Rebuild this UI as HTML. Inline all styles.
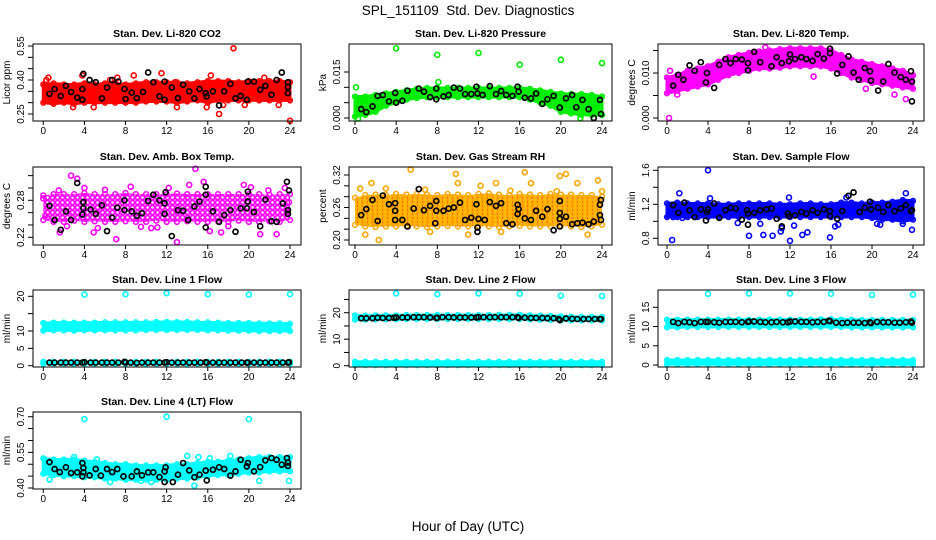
<!DOCTYPE html>
<html><head><meta charset="utf-8"><title>SPL_151109 Std. Dev. Diagnostics</title>
<style>
html,body{margin:0;padding:0;background:#fff;}
svg{display:block;font-family:"Liberation Sans",Arial,sans-serif;}
</style></head>
<body>
<svg id="chart" width="936" height="540" viewBox="0 0 936 540" xmlns="http://www.w3.org/2000/svg">
<defs>
<pattern id="pat-magenta" width="5" height="5" patternUnits="userSpaceOnUse"><circle cx="2.5" cy="2.5" r="2.1" fill="none" stroke="#ff00ff" stroke-width="1.7"/></pattern>
<pattern id="pat-orange" width="5" height="4" patternUnits="userSpaceOnUse"><rect width="5" height="4" fill="#ffc000"/><circle cx="2.5" cy="2" r="1.7" fill="none" stroke="#ffa500" stroke-width="1"/><circle cx="2.5" cy="2" r="0.6" fill="#ff3000"/></pattern>
</defs>
<text x="468" y="15" font-size="13.5" text-anchor="middle">SPL_151109&#160; Std. Dev. Diagnostics</text>
<text x="468" y="531" font-size="13.5" text-anchor="middle">Hour of Day (UTC)</text>
</svg>
<script>
// ---------- shared data ----------
const hours = [0,1,2,3,4,5,6,7,8,9,10,11,12,13,14,15,16,17,18,19,20,21,22,23,24];
const xTicks = [0,4,8,12,16,20,24];
const lineBlackH = [0.6,1.1,1.7,2.2,2.7,3.3,3.8,4.0,4.6,5.1,5.7,6.2,6.7,7.3,7.9,8.0,8.5,9.1,9.6,10.2,10.7,11.3,11.8,12.0,12.5,13.1,13.6,14.2,14.7,15.3,15.8,15.9,16.5,17.1,17.6,18.2,18.7,19.3,19.8,19.9,20.5,21.1,21.6,22.2,22.7,23.3,23.8,23.9];

// ---------- CO2 ----------
const co2Lo = [0.30,0.295,0.30,0.295,0.30,0.30,0.30,0.30,0.30,0.30,0.305,0.305,0.305,0.30,0.305,0.31,0.30,0.31,0.31,0.31,0.31,0.31,0.31,0.31,0.31];
const co2Hi = [0.38,0.385,0.38,0.38,0.385,0.38,0.385,0.385,0.38,0.385,0.39,0.39,0.39,0.39,0.385,0.39,0.395,0.395,0.395,0.39,0.395,0.395,0.395,0.395,0.39];
const co2OutH = [0.3,3.8,7.2,8.8,11.5,12.8,15.9,16.3,17.1,18.5,22.9,24,2.9,4.9,13,17.5,19.6,0.5,6.5,21.5];
const co2OutV = [0.40,0.42,0.41,0.42,0.43,0.39,0.28,0.42,0.25,0.54,0.29,0.22,0.28,0.28,0.28,0.29,0.29,0.41,0.40,0.41];
const co2BlackH = [0.6,1.1,1.7,2.2,2.7,3.3,3.8,3.9,3.8,4.5,5.1,5.7,6.2,6.7,7.3,7.9,8.0,8.6,9.1,9.7,10.2,10.7,11.3,11.8,11.8,12.5,13.1,13.6,14.2,14.7,15.2,15.8,15.9,16.5,17.1,17.6,18.2,18.7,19.2,19.8,19.9,20.5,21.1,21.6,22.2,22.7,23.2,23.8,23.8,23.8];
const co2BlackV = [0.339,0.36,0.33,0.374,0.347,0.322,0.36,0.427,0.313,0.40,0.39,0.319,0.367,0.40,0.393,0.36,0.316,0.344,0.32,0.347,0.433,0.39,0.328,0.393,0.313,0.367,0.32,0.379,0.35,0.319,0.36,0.342,0.328,0.35,0.288,0.35,0.383,0.319,0.33,0.313,0.393,0.393,0.357,0.374,0.335,0.40,0.433,0.39,0.369,0.342];

// ---------- Pressure ----------
const presLo = [0.0005,0.001,0.002,0.004,0.005,0.006,0.0065,0.0068,0.0068,0.0068,0.0068,0.0068,0.0068,0.0068,0.0068,0.0068,0.0068,0.006,0.005,0.004,0.002,0.0015,0.001,0.001,0.001];
const presHi = [0.007,0.007,0.0075,0.008,0.0085,0.009,0.0095,0.0098,0.0098,0.0098,0.0098,0.0098,0.0098,0.0098,0.0098,0.0098,0.0098,0.0095,0.009,0.0085,0.008,0.0078,0.0078,0.0075,0.007];
const presOutH = [0.1,4,8,12,16,20,24,8.1,21.9,0.3];
const presOutV = [0.010,0.0227,0.0206,0.0212,0.0174,0.019,0.0179,0.0117,0.0,-0.0002];
const presBlackH = [0.6,1.1,1.7,2.2,2.7,3.3,3.9,4.0,4.6,5.1,6.2,6.7,7.3,7.9,7.9,8.6,9.1,9.6,10.2,10.7,11.3,11.8,11.9,12.4,13.1,13.7,14.2,14.7,15.3,15.8,15.9,16.5,17.1,17.6,18.2,18.7,19.3,19.9,20.5,21.1,21.5,22.1,22.7,23.2,23.8,23.9];
const presBlackV = [0.0029,0.0019,0.0038,0.0072,0.0075,0.0054,0.0082,0.005,0.0056,0.0089,0.0096,0.0086,0.0068,0.0096,0.0061,0.007,0.0075,0.0099,0.0096,0.0078,0.0078,0.0102,0.008,0.0075,0.0104,0.0078,0.0088,0.0075,0.0072,0.0102,0.0086,0.0066,0.0064,0.008,0.0046,0.0061,0.0072,0.0034,0.0064,0.0075,0.0035,0.0059,0.0029,0.0,0.0059,0.0013];

// ---------- Li-820 Temp ----------
const ltLo = [0.0055,0.006,0.0065,0.007,0.0075,0.0085,0.0095,0.010,0.0105,0.011,0.011,0.0112,0.0115,0.0115,0.0115,0.0115,0.011,0.010,0.009,0.0085,0.0078,0.0075,0.0072,0.0068,0.0065];
const ltHi = [0.009,0.0095,0.0105,0.011,0.0115,0.0125,0.0135,0.014,0.0145,0.0148,0.015,0.0153,0.0155,0.0155,0.0155,0.0155,0.015,0.014,0.013,0.0125,0.012,0.0115,0.011,0.0105,0.0095];
const ltOutH = [0.2,9.6,14.3,19.4,22.2,23.3,0.3,1.0];
const ltOutV = [0.0,0.0157,0.0092,0.0065,0.0052,0.0042,0.0105,0.0052];
const ltBlackH = [0.6,1.1,1.6,2.2,2.7,3.3,3.8,3.9,4.6,5.1,5.7,6.2,6.7,7.3,7.9,7.9,8.5,9.1,10.2,10.7,11.2,11.9,12.0,12.5,13.1,13.6,14.2,14.7,15.3,15.9,15.9,16.6,17.1,17.7,18.2,18.7,19.3,19.8,19.9,20.6,21.1,21.6,22.2,22.8,23.3,23.8,23.9,23.9];
const ltBlackV = [0.0072,0.0096,0.0085,0.0117,0.0105,0.0124,0.0079,0.010,0.0067,0.0118,0.0131,0.0122,0.0131,0.013,0.0122,0.0106,0.0147,0.0124,0.0115,0.0135,0.0122,0.0126,0.0141,0.0131,0.0135,0.0131,0.0127,0.0142,0.0132,0.0144,0.0154,0.0099,0.0118,0.0137,0.0101,0.0085,0.0111,0.0104,0.0083,0.0061,0.0081,0.012,0.0101,0.0091,0.0085,0.0104,0.0081,0.0037];

// ---------- Amb Box Temp ----------
const abLo = [0.248,0.245,0.245,0.247,0.245,0.246,0.245,0.245,0.246,0.245,0.245,0.247,0.245,0.245,0.246,0.245,0.245,0.246,0.245,0.247,0.245,0.245,0.246,0.245,0.248];
const abHi = [0.288,0.29,0.29,0.29,0.292,0.29,0.29,0.29,0.292,0.29,0.29,0.29,0.29,0.291,0.29,0.29,0.29,0.29,0.29,0.29,0.29,0.29,0.289,0.29,0.29];
const abOutH = [2.7,3.3,14.8,15.6,21.9,7.1,13,17.3,21.1,22.7,4.9,1.6,0.2,0.0,1.5,2.3,4,6,8.5,10.5,12.2,14.2,16.2,18,19.5,20.2,23.5,23.9,5.3,9.5,11.1];
const abOutV = [0.32,0.315,0.331,0.31,0.296,0.217,0.212,0.228,0.225,0.225,0.228,0.228,0.255,0.283,0.296,0.238,0.30,0.297,0.302,0.235,0.30,0.305,0.23,0.238,0.305,0.301,0.30,0.277,0.235,0.237,0.236];
const abBlackH = [0.6,1.1,1.7,2.2,2.7,3.3,3.9,3.9,3.8,4.6,5.1,5.7,6.2,6.7,7.2,7.9,7.9,8.6,9.1,9.6,10.2,10.7,11.3,11.9,11.8,11.8,12.5,13.1,13.6,14.1,14.7,15.2,15.8,15.8,15.8,16.5,17.1,17.6,18.2,18.7,19.2,19.9,19.9,19.8,20.5,21.1,21.6,22.2,22.7,23.3,23.7,23.9,23.8,23.8];
const abBlackV = [0.271,0.248,0.232,0.262,0.248,0.308,0.277,0.267,0.257,0.265,0.258,0.272,0.23,0.252,0.268,0.28,0.264,0.262,0.255,0.259,0.279,0.289,0.28,0.293,0.275,0.258,0.222,0.264,0.263,0.248,0.27,0.278,0.302,0.289,0.236,0.262,0.245,0.256,0.264,0.229,0.267,0.294,0.278,0.267,0.261,0.238,0.281,0.246,0.245,0.275,0.31,0.296,0.264,0.258];

// ---------- Gas Stream RH ----------
const rhLo = [0.228,0.225,0.224,0.225,0.225,0.226,0.225,0.224,0.225,0.226,0.225,0.225,0.226,0.225,0.224,0.225,0.226,0.225,0.225,0.225,0.226,0.225,0.224,0.225,0.228];
const rhHi = [0.278,0.283,0.284,0.283,0.285,0.284,0.285,0.284,0.283,0.285,0.284,0.283,0.285,0.286,0.284,0.283,0.285,0.284,0.283,0.285,0.284,0.284,0.283,0.283,0.28];
const rhOutH = [0.5,1.6,1.0,2.3,5.4,9.8,10,11,12.2,13.7,16.5,17.1,19.9,20.5,22.6,23.6,24,14.2,7.3,19.6,21.6,3.0,6.8,15.1];
const rhOutV = [0.295,0.305,0.21,0.20,0.33,0.322,0.305,0.21,0.30,0.305,0.325,0.305,0.318,0.322,0.21,0.31,0.29,0.215,0.215,0.29,0.305,0.295,0.293,0.291];
const rhBlackH = [0.6,1.1,1.7,2.2,2.7,3.3,3.9,3.9,3.9,4.6,5.1,5.7,6.2,6.7,7.3,7.8,7.9,7.9,8.6,9.1,9.6,10.2,10.7,11.3,11.8,12.0,11.9,11.9,12.6,13.1,13.7,14.2,14.7,15.3,15.8,15.9,15.8,16.5,17.1,17.6,18.2,18.7,19.3,19.9,19.9,19.9,19.9,20.5,21.1,21.6,22.1,22.7,23.2,23.8,23.9,23.8,23.9];
const rhBlackV = [0.246,0.257,0.274,0.235,0.282,0.266,0.268,0.254,0.237,0.237,0.225,0.258,0.294,0.255,0.263,0.231,0.272,0.254,0.254,0.258,0.26,0.269,0.237,0.241,0.266,0.239,0.223,0.215,0.237,0.27,0.263,0.268,0.231,0.229,0.265,0.257,0.248,0.24,0.237,0.254,0.243,0.257,0.218,0.272,0.25,0.239,0.225,0.243,0.229,0.231,0.232,0.229,0.234,0.265,0.274,0.246,0.237];

// ---------- Sample Flow ----------
const sfLo = [1.05,1.05,1.05,1.05,1.05,1.05,1.05,1.05,1.05,1.05,1.05,1.05,1.05,1.05,1.05,1.05,1.05,1.05,1.05,1.05,1.04,1.02,1.02,1.0,1.02];
const sfHi = [1.21,1.22,1.21,1.21,1.21,1.2,1.2,1.21,1.21,1.21,1.21,1.2,1.2,1.21,1.21,1.2,1.2,1.22,1.22,1.21,1.22,1.22,1.23,1.25,1.24];
const sfOutH = [0.5,1.2,4,4.2,8,9.4,10.3,11.1,11.2,11.9,12,12.4,13.2,13.7,15.9,16.4,16.7,20.5,20.8,23,23.3,23.9,17.5,0.6,1.5,6.9,9.1];
const sfOutV = [0.78,1.33,1.6,1.27,0.83,0.84,0.83,0.88,0.92,1.28,0.77,0.95,0.84,0.87,0.81,0.94,0.96,0.97,0.96,0.97,1.33,0.9,1.28,1.05,1.04,0.98,0.97];
const sfBlackH = [0.6,1.1,1.7,2.2,2.7,3.3,3.8,3.9,4.0,4.6,5.1,5.7,6.2,6.7,7.3,7.8,7.9,7.9,8.5,9.1,9.7,10.2,10.7,11.2,11.8,11.9,12.5,13.1,13.6,14.2,14.7,15.3,15.9,15.9,16.6,17.1,17.7,18.2,18.8,19.3,19.8,19.9,20.6,21.1,21.6,22.2,22.8,23.3,23.8,23.9];
const sfBlackV = [1.19,1.10,1.22,1.13,1.05,1.14,1.01,1.11,1.14,1.21,1.04,1.13,1.16,1.15,1.02,1.13,0.96,1.09,1.10,1.13,1.14,1.15,1.03,0.94,1.09,1.06,1.07,1.11,1.09,1.13,1.10,1.14,1.12,1.06,1.03,1.12,1.30,1.34,1.11,1.16,1.23,1.14,1.16,1.11,1.19,1.12,1.15,1.19,1.12,1.13];

// ---------- Line 1 ----------
const l1Lo = [10.1,10.2,10.2,10.1,10.2,10.2,10.2,10.2,10.2,10.2,10.3,10.3,10.3,10.3,10.3,10.3,10.2,10.2,10.1,10.1,10.1,10.0,10.0,10.0,10.0];
const l1Hi = [12.3,12.4,12.4,12.4,12.4,12.4,12.5,12.5,12.5,12.5,12.5,12.6,12.6,12.6,12.6,12.5,12.5,12.4,12.3,12.3,12.3,12.2,12.2,12.2,12.1];
const l1BotLo = [0.6,0.6,0.6,0.6,0.6,0.6,0.6,0.6,0.6,0.6,0.6,0.6,0.6,0.6,0.6,0.6,0.6,0.6,0.6,0.6,0.6,0.6,0.6,0.6,0.6];
const l1BotHi = [1.1,1.1,1.1,1.1,1.1,1.1,1.1,1.1,1.1,1.1,1.1,1.1,1.1,1.1,1.1,1.1,1.1,1.1,1.1,1.1,1.1,1.1,1.1,1.1,1.1];
const l1OutH = [4,8,12,16,20,24];
const l1OutV = [20.5,20.6,20.9,20.6,20.5,20.6];
const l1BlackV = [0.9,0.9,0.9,0.9,0.9,0.9,0.9,1.0,0.9,0.9,0.9,0.9,0.9,0.9,1.1,0.9,0.9,0.8,0.9,0.9,0.9,0.9,0.9,1.0,0.9,0.9,0.9,0.9,0.9,0.9,1.0,0.9,0.9,0.9,0.9,0.9,0.9,0.9,0.9,0.9,0.9,0.9,0.9,0.9,0.9,0.9,0.9,1.0];

// ---------- Line 2 ----------
const l2Lo = [17.4,17.4,17.5,17.5,17.5,17.6,17.6,17.6,17.6,17.6,17.6,17.6,17.6,17.6,17.6,17.6,17.6,17.5,17.4,17.3,17.2,17.1,17.1,17.1,17.1];
const l2Hi = [19.0,18.9,19.0,19.0,19.0,19.1,19.1,19.1,19.2,19.1,19.1,19.1,19.1,19.1,19.2,19.2,19.2,19.0,18.9,18.8,18.6,18.5,18.4,18.4,18.4];
const l2BotLo = [0.2,0.2,0.2,0.2,0.2,0.2,0.2,0.2,0.2,0.2,0.2,0.2,0.2,0.2,0.2,0.2,0.2,0.2,0.2,0.2,0.2,0.2,0.2,0.2,0.2];
const l2BotHi = [1.5,1.5,1.5,1.5,1.5,1.5,1.5,1.5,1.5,1.5,1.5,1.5,1.5,1.5,1.5,1.5,1.5,1.5,1.5,1.5,1.5,1.5,1.5,1.5,1.5];
const l2OutH = [4,8,12,16,20,24];
const l2OutV = [27.3,27.0,27.3,27.2,26.4,26.3];
const l2BlackV = [17.9,17.9,17.9,18.1,18.0,18.0,18.1,18.2,18.2,18.2,18.3,18.3,18.3,18.2,18.0,18.1,18.3,18.3,18.2,18.2,18.2,18.2,18.2,18.3,18.3,18.3,18.3,18.3,18.3,18.3,18.3,18.0,18.1,18.0,18.0,18.0,17.9,17.9,17.6,17.2,17.8,17.7,17.6,17.6,17.6,17.6,17.6,17.6];

// ---------- Line 3 ----------
const l3Lo = [9.8,9.8,9.9,9.9,9.9,9.9,9.9,9.9,9.9,9.9,9.9,9.9,9.9,9.9,9.9,9.9,9.9,9.9,9.8,9.8,9.8,9.8,9.8,9.8,9.8];
const l3Hi = [11.8,11.8,11.8,11.8,11.8,11.8,11.8,11.8,11.8,11.8,11.8,11.8,11.8,11.8,11.8,11.9,11.9,11.8,11.8,11.7,11.7,11.7,11.7,11.7,11.7];
const l3BotLo = [0.2,0.2,0.2,0.2,0.2,0.2,0.2,0.2,0.2,0.2,0.2,0.2,0.2,0.2,0.2,0.2,0.2,0.2,0.2,0.2,0.2,0.2,0.2,0.2,0.2];
const l3BotHi = [1.3,1.3,1.3,1.3,1.3,1.3,1.3,1.3,1.3,1.3,1.3,1.3,1.3,1.3,1.3,1.3,1.3,1.3,1.3,1.3,1.3,1.3,1.3,1.3,1.3];
const l3OutH = [4,8,12,16,20,24];
const l3OutV = [18.5,18.6,18.6,18.5,18.2,18.3];
const l3BlackV = [11.2,10.9,11.2,11.1,10.9,11.2,11.2,11.2,11.1,11.0,11.2,11.2,11.2,11.1,11.2,11.3,11.3,11.2,11.1,11.1,11.2,11.1,11.1,11.3,11.3,11.2,11.2,11.1,11.2,11.2,11.5,11.4,11.0,10.9,11.0,11.0,11.0,10.9,11.1,10.9,11.2,11.1,11.1,11.0,11.0,11.1,11.3,11.0];

// ---------- Line 4 ----------
const l4Lo = [0.46,0.455,0.45,0.45,0.445,0.445,0.44,0.44,0.435,0.435,0.435,0.435,0.435,0.44,0.44,0.445,0.45,0.455,0.455,0.46,0.465,0.465,0.47,0.47,0.47];
const l4Hi = [0.525,0.52,0.52,0.52,0.515,0.51,0.505,0.50,0.50,0.495,0.495,0.495,0.495,0.50,0.50,0.505,0.51,0.51,0.515,0.52,0.525,0.53,0.53,0.53,0.53];
const l4OutH = [4,12,20,14,15.1,16.2,18.2,14.7,10.5,6.5,21,23.9,0.6,3.0,5.2,9.5];
const l4OutV = [0.69,0.70,0.69,0.535,0.53,0.525,0.535,0.41,0.425,0.425,0.43,0.43,0.435,0.53,0.52,0.43];
const l4BlackH = [0.6,1.1,1.6,2.2,2.7,3.3,3.8,3.9,3.8,3.9,4.5,5.1,5.6,6.2,6.7,7.2,7.8,8.6,9.1,9.6,10.2,10.7,11.3,11.8,11.9,11.8,12.6,13.1,13.6,14.2,14.7,15.2,15.8,15.9,16.5,17.1,17.6,18.2,18.7,19.2,19.8,19.9,20.5,21.1,21.6,22.2,22.7,23.2,23.7,23.8,23.8];
const l4BlackV = [0.509,0.48,0.467,0.487,0.463,0.466,0.505,0.484,0.449,0.466,0.453,0.48,0.452,0.48,0.467,0.48,0.449,0.449,0.47,0.453,0.466,0.466,0.446,0.47,0.487,0.425,0.425,0.456,0.505,0.474,0.445,0.456,0.473,0.432,0.477,0.487,0.48,0.452,0.47,0.519,0.491,0.505,0.47,0.488,0.516,0.526,0.519,0.498,0.526,0.507,0.493];

// ---------- panel layout ----------
const SVGNS = "http://www.w3.org/2000/svg";
const svg = document.getElementById('chart');
function mk(tag, attrs, parent) {
  const el = document.createElementNS(SVGNS, tag);
  for (const k in attrs) el.setAttribute(k, attrs[k]);
  (parent || svg).appendChild(el);
  return el;
}
const C1 = {l:33, r:301, x0:43.3, x24:290};
const C2 = {l:349, r:612, x0:355, x24:602};
const C3 = {l:658, r:924, x0:667, x24:913};
const R1 = {t:44, b:121}, R2 = {t:167, b:245}, R3 = {t:290, b:367}, R4 = {t:412, b:489};

const panels = [
  {key:'co2', c:C1, rw:R1, title:'Stan. Dev. Li-820 CO2', ylab:'Licor ppm', cal:[0.25,114,0.55,46],
   ticks:[0.25,0.30,0.35,0.40,0.45,0.50,0.55], labels:['0.25','0.40','0.55'], labelVals:[0.25,0.40,0.55],
   bands:[{lo:co2Lo,hi:co2Hi,fill:'#ff0000',sw:3}], color:'#ff0000', outH:co2OutH, outV:co2OutV, bH:co2BlackH, bV:co2BlackV},
  {key:'pressure', c:C2, rw:R1, title:'Stan. Dev. Li-820 Pressure', ylab:'kPa', cal:[0,118,0.015,72],
   ticks:[0,0.005,0.010,0.015], labels:['0.000','0.015'], labelVals:[0,0.015],
   bands:[{lo:presLo,hi:presHi,fill:'#00ee00',sw:3}], color:'#00ee00', outH:presOutH, outV:presOutV, bH:presBlackH, bV:presBlackV},
  {key:'li820-temp', c:C3, rw:R1, title:'Stan. Dev. Li-820 Temp.', ylab:'degrees C', cal:[0,118,0.010,73],
   ticks:[0,0.005,0.010,0.015], labels:['0.000','0.010'], labelVals:[0,0.010],
   bands:[{lo:ltLo,hi:ltHi,fill:'#ff00ff',sw:3}], color:'#ff00ff', outH:ltOutH, outV:ltOutV, bH:ltBlackH, bV:ltBlackV},
  {key:'amb-box-temp', c:C1, rw:R2, title:'Stan. Dev. Amb. Box Temp.', ylab:'degrees C', cal:[0.22,237.3,0.28,200.3],
   ticks:[0.22,0.24,0.26,0.28,0.30,0.32], labels:['0.22','0.28'], labelVals:[0.22,0.28],
   bands:[{lo:abLo,hi:abHi,fill:'url(#pat-magenta)',sw:0}], color:'#ff00ff', outH:abOutH, outV:abOutV, bH:abBlackH, bV:abBlackV},
  {key:'gas-stream-rh', c:C2, rw:R2, title:'Stan. Dev. Gas Stream RH', ylab:'percent', cal:[0.20,240,0.32,175],
   ticks:[0.20,0.22,0.24,0.26,0.28,0.30,0.32], labels:['0.20','0.26','0.32'], labelVals:[0.20,0.26,0.32],
   bands:[{lo:rhLo,hi:rhHi,fill:'url(#pat-orange)',sw:0}], color:'#ffa500', outH:rhOutH, outV:rhOutV, bH:rhBlackH, bV:rhBlackV},
  {key:'sample-flow', c:C3, rw:R2, title:'Stan. Dev. Sample Flow', ylab:'ml/min', cal:[0.8,238.3,1.6,170.3],
   ticks:[0.8,1.0,1.2,1.4,1.6], labels:['0.8','1.2','1.6'], labelVals:[0.8,1.2,1.6],
   bands:[{lo:sfLo,hi:sfHi,fill:'#0000ff',sw:3}], color:'#0000ff', outH:sfOutH, outV:sfOutV, bH:sfBlackH, bV:sfBlackV},
  {key:'line1-flow', c:C1, rw:R3, title:'Stan. Dev. Line 1 Flow', ylab:'ml/min', cal:[0,365.7,20,296.3],
   ticks:[0,5,10,15,20], labels:['0','5','10','20'], labelVals:[0,5,10,20],
   bands:[{lo:l1Lo,hi:l1Hi,fill:'#00ffff',sw:3},{lo:l1BotLo,hi:l1BotHi,fill:'#00ffff',sw:3}], color:'#00ffff', outH:l1OutH, outV:l1OutV, bH:lineBlackH, bV:l1BlackV},
  {key:'line2-flow', c:C2, rw:R3, title:'Stan. Dev. Line 2 Flow', ylab:'ml/min', cal:[0,365.7,20,312.7],
   ticks:[0,5,10,15,20,25], labels:['0','10','20'], labelVals:[0,10,20],
   bands:[{lo:l2Lo,hi:l2Hi,fill:'#00ffff',sw:3},{lo:l2BotLo,hi:l2BotHi,fill:'#00ffff',sw:3}], color:'#00ffff', outH:l2OutH, outV:l2OutV, bH:lineBlackH, bV:l2BlackV},
  {key:'line3-flow', c:C3, rw:R3, title:'Stan. Dev. Line 3 Flow', ylab:'ml/min', cal:[0,365,15,307.3],
   ticks:[0,5,10,15], labels:['0','5','10','15'], labelVals:[0,5,10,15],
   bands:[{lo:l3Lo,hi:l3Hi,fill:'#00ffff',sw:3},{lo:l3BotLo,hi:l3BotHi,fill:'#00ffff',sw:3}], color:'#00ffff', outH:l3OutH, outV:l3OutV, bH:lineBlackH, bV:l3BlackV},
  {key:'line4-flow', c:C1, rw:R4, title:'Stan. Dev. Line 4 (LT) Flow', ylab:'ml/min', cal:[0.40,488,0.70,416.7],
   ticks:[0.40,0.45,0.50,0.55,0.60,0.65,0.70], labels:['0.40','0.55','0.70'], labelVals:[0.40,0.55,0.70],
   bands:[{lo:l4Lo,hi:l4Hi,fill:'#00ffff',sw:3}], color:'#00ffff', outH:l4OutH, outV:l4OutV, bH:l4BlackH, bV:l4BlackV}
];

panels.forEach(p => {
  const l = p.c.l, r = p.c.r, t = p.rw.t, b = p.rw.b;
  const xs = h => p.c.x0 + h * (p.c.x24 - p.c.x0) / 24;
  const ys = v => p.cal[1] + (v - p.cal[0]) * (p.cal[3] - p.cal[1]) / (p.cal[2] - p.cal[0]);
  const g = mk('g', {});
  
  

  const ti = mk('text', {x:(l + r) / 2, y:t - 7, 'font-size':10.5, 'font-weight':'bold', 'text-anchor':'middle'}, g);
  ti.textContent = p.title;
  
  

  p.bands.forEach((bd, bi) => {
    let pts = [];
    hours.forEach((h, i) => pts.push(xs(h) + ',' + ys(bd.hi[i])));
    for (let i = hours.length - 1; i >= 0; i--) pts.push(xs(hours[i]) + ',' + ys(bd.lo[i]));
    const poly = mk('polygon', {points: pts.join(' '), fill: bd.fill, stroke: bd.sw ? p.color : 'none', 'stroke-width': bd.sw, 'stroke-linejoin':'round'}, g);
    
    
    hours.forEach((h, i) => {
      [bd.lo[i], bd.hi[i]].forEach(v => {
        const c = mk('circle', {cx: xs(h), cy: ys(v), r: 2.4, fill: 'none', stroke: p.color, 'stroke-width': 1.5}, g);
        
        
      });
    });
  });

  p.outH.forEach((h, i) => {
    const c = mk('circle', {cx: xs(h), cy: ys(p.outV[i]), r: 2.5, fill: 'none', stroke: p.color, 'stroke-width': 1.6}, g);
    
    
  });

  p.bH.forEach((h, i) => {
    const c = mk('circle', {cx: xs(h), cy: ys(p.bV[i]), r: 2.5, fill: 'none', stroke: '#000', 'stroke-width': 1.7}, g);
    
    
  });

  const box = mk('rect', {x: l, y: t, width: r - l, height: b - t, fill: 'none', stroke: '#000', 'stroke-width': 1}, g);
  
  

  const yAx = mk('g', {}, g);
  
  
  const ty0 = ys(p.ticks[0]), ty1 = ys(p.ticks[p.ticks.length - 1]);
  mk('line', {x1: l, x2: l, y1: ty0, y2: ty1, stroke: '#000'}, yAx);
  p.ticks.forEach(v => mk('line', {x1: l - 5, x2: l, y1: ys(v), y2: ys(v), stroke: '#000'}, yAx));
  p.labelVals.forEach((v, i) => {
    const tx = mk('text', {x: l - 9, y: ys(v), 'font-size': 10, 'text-anchor': 'middle', transform: 'rotate(-90 ' + (l - 9) + ' ' + ys(v) + ')'}, yAx);
    tx.textContent = p.labels[i];
    
    
  });
  const yl = mk('text', {x: l - 23, y: (t + b) / 2, 'font-size': 10, 'text-anchor': 'middle', transform: 'rotate(-90 ' + (l - 23) + ' ' + ((t + b) / 2) + ')'}, g);
  yl.textContent = p.ylab;
  
  

  const xAx = mk('g', {}, g);
  
  
  xTicks.forEach(h => {
    mk('line', {x1: xs(h), x2: xs(h), y1: b, y2: b + 4, stroke: '#000'}, xAx);
    const tx = mk('text', {x: xs(h), y: b + 13, 'font-size': 10, 'text-anchor': 'middle'}, xAx);
    tx.textContent = String(h);
    
    
  });
});
</script>
</body></html>
